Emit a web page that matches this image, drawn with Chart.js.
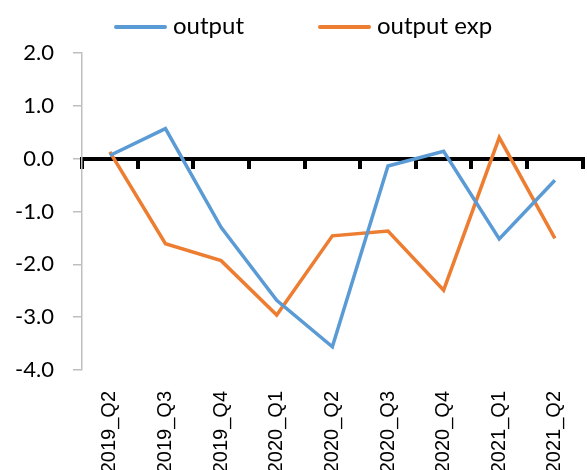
<!DOCTYPE html>
<html>
<head>
<meta charset="utf-8">
<script src="https://cdn.jsdelivr.net/npm/chart.js@4"></script>
<style>
  html, body { margin: 0; padding: 0; background: #fff; overflow: hidden; width: 587px; height: 470px; }
  #wrap { position: absolute; left: 0; top: 0; width: 592px; height: 485px; }
  .leg { position: absolute; top: 10px; font-family: Lato, sans-serif; font-size: 24px; color: #000; line-height: 30px; white-space: nowrap; }
  .leg span.ln { display: inline-block; width: 53px; height: 4px; border-radius: 2px; vertical-align: middle; margin-right: 6px; position: relative; top: -1px; }
</style>
</head>
<body>
<div id="wrap"><canvas id="chart"></canvas></div>
<div class="leg" style="left:114px"><span class="ln" style="background:#5B9BD5"></span>output</div>
<div class="leg" style="left:318px"><span class="ln" style="background:#ED7D31"></span>output exp</div>
<script>
// ====== Data ======
const quarters = ["2019_Q2", "2019_Q3", "2019_Q4", "2020_Q1", "2020_Q2", "2020_Q3", "2020_Q4", "2021_Q1", "2021_Q2"];
const output = [0.06, 0.57, -1.30, -2.68, -3.56, -0.14, 0.14, -1.52, -0.41];
const outputExp = [0.13, -1.61, -1.93, -2.96, -1.46, -1.37, -2.49, 0.40, -1.51];
const yTicks = [2, 1, 0, -1, -2, -3, -4];

// ====== Chart ======
const ctx = document.getElementById("chart").getContext("2d");
new Chart(ctx, {
  type: "line",
  data: {
    labels: quarters,
    datasets: [
      { label: "output", data: output, borderColor: "#5B9BD5", backgroundColor: "#5B9BD5", borderWidth: 3.5, pointRadius: 0, tension: 0, xAxisID: "x" },
      { label: "output exp", data: outputExp, borderColor: "#ED7D31", backgroundColor: "#ED7D31", borderWidth: 3.5, pointRadius: 0, tension: 0, xAxisID: "x" }
    ]
  },
  options: {
    responsive: true,
    maintainAspectRatio: false,
    animation: false,
    layout: { padding: { top: 53, right: 2, left: 0, bottom: 0 } },
    plugins: { legend: { display: false }, tooltip: { enabled: false } },
    scales: {
      x: {
        type: "category",
        position: "bottom",
        offset: true,
        grid: { display: false },
        border: { display: false },
        ticks: {
          autoSkip: false, maxRotation: 90, minRotation: 90, padding: 13,
          color: "#000", font: { family: "'Liberation Sans', Arial", size: 20 }
        },
        afterFit: s => { s.height = 115; }
      },
      x0: {
        type: "category",
        position: { y: 0 },
        offset: true,
        grid: { drawOnChartArea: false, drawTicks: true, tickLength: 8, color: "#000", lineWidth: 4, offset: true },
        border: { display: true, color: "#000", width: 4 },
        ticks: { display: false }
      },
      y: {
        min: -4, max: 2,
        afterBuildTicks: s => { s.ticks = yTicks.map(v => ({ value: v })); },
        grid: { drawOnChartArea: false, drawTicks: true, tickLength: 9, color: "#bfbfbf", lineWidth: 1.5 },
        border: { display: true, color: "#bfbfbf", width: 1.5 },
        ticks: {
          padding: 19, color: "#000", font: { family: "Lato", size: 22 },
          callback: v => v.toFixed(1)
        },
        afterFit: s => { s.width = 82; }
      }
    }
  }
});
</script>
</body>
</html>
